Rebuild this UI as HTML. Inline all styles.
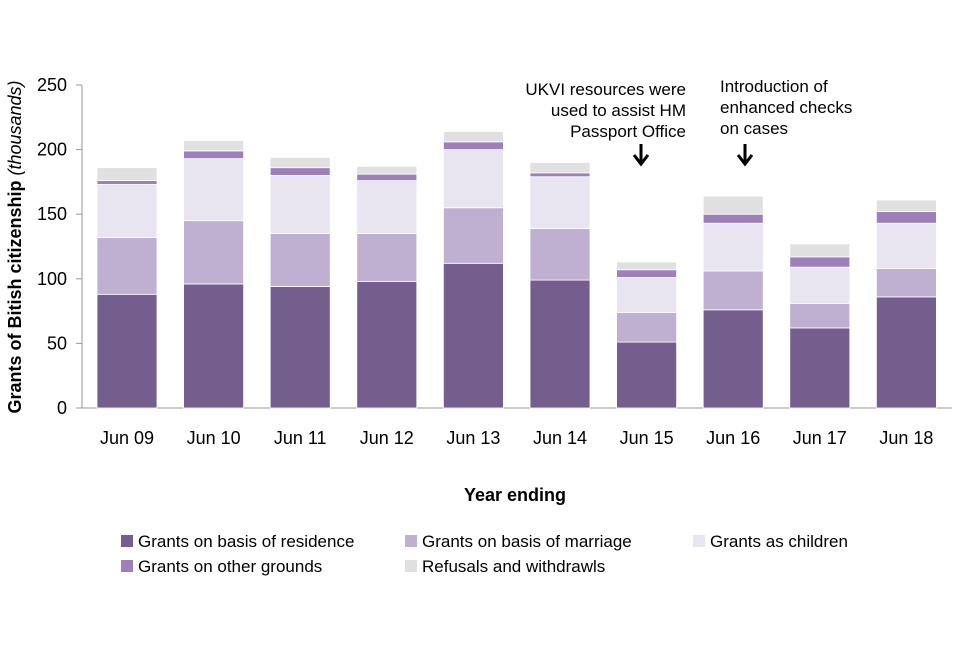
<!DOCTYPE html>
<html><head><meta charset="utf-8"><style>
body{margin:0;background:#fff;font-family:"Liberation Sans",sans-serif}
svg text{font-family:"Liberation Sans",sans-serif}
</style></head><body>
<svg id="chart" width="960" height="640" viewBox="0 0 960 640" xmlns="http://www.w3.org/2000/svg">
<g id="axes"></g><g id="bars"></g><g id="legend"></g>
<text transform="translate(21,247) rotate(-90)" text-anchor="middle" font-size="18" font-weight="bold" fill="#000">Grants of Bitish citizenship <tspan font-weight="normal" font-style="italic">(thousands)</tspan></text>
<text x="515" y="501" text-anchor="middle" font-size="18" font-weight="bold">Year ending</text>
<g font-size="17" text-anchor="end">
<text x="686" y="95">UKVI resources were</text>
<text x="686" y="116">used to assist HM</text>
<text x="686" y="137">Passport Office</text>
<path d="M641 144 V164 M634 155 L641 164 L648 155" stroke="#000" stroke-width="3" fill="none"/>
</g>
<g font-size="17">
<text x="720" y="92">Introduction of</text>
<text x="720" y="113">enhanced checks</text>
<text x="720" y="134">on cases</text>
<path d="M745 144 V164 M738 155 L745 164 L752 155" stroke="#000" stroke-width="3" fill="none"/>
</g>
</svg>
<script>
const categories=["Jun 09","Jun 10","Jun 11","Jun 12","Jun 13","Jun 14","Jun 15","Jun 16","Jun 17","Jun 18"];
const residence=[88,96,94,98,112,99,51,76,62,86];
const marriage=[44,49,41,37,43,40,23,30,19,22];
const children=[41,48,45,41,45,40,27,37,28,35];
const other=[3,6,6,5,6,3,6,7,8,9];
const refusals=[10,8,8,6,8,8,6,14,10,9];
const yTicks=[0,50,100,150,200,250];
const seriesNames=["Grants on basis of residence","Grants on basis of marriage","Grants as children","Grants on other grounds","Refusals and withdrawls"];
const colors=["#735e8d","#bfb0d1","#e8e4f0","#9c80bb","#e0e0e0"];
const series=[residence,marriage,children,other,refusals];
const NS="http://www.w3.org/2000/svg";
const y0=408,y1=85,yMax=250;
const y=v=>y0-(v/yMax)*(y0-y1);
const x=i=>97+i*86.6;
const bw=60;
function mk(tag,attrs,parent){const e=document.createElementNS(NS,tag);for(const k in attrs)e.setAttribute(k,attrs[k]);parent.appendChild(e);return e;}
const axes=document.getElementById('axes');
let ax=mk('line',{x1:82,x2:82,y1:y1,y2:y0,stroke:'#999','stroke-width':1},axes);


let bx=mk('line',{x1:82,x2:952,y1:y0,y2:y0,stroke:'#999','stroke-width':1},axes);


yTicks.forEach(t=>{
  mk('line',{x1:76,x2:82,y1:y(t),y2:y(t),stroke:'#999'},axes);
  const tx=mk('text',{x:67,y:y(t)+6,'text-anchor':'end','font-size':18},axes);
  tx.textContent=t;
  
  
});
const bars=document.getElementById('bars');
categories.forEach((c,i)=>{
  let base=0;
  series.forEach((s,k)=>{
    const r=mk('rect',{x:x(i),y:y(base+s[i]),width:bw,height:y(base)-y(base+s[i]),fill:colors[k],stroke:'#fff','stroke-width':0.8},bars);
    
    
    base+=s[i];
  });
  const t=mk('text',{x:x(i)+bw/2,y:444,'text-anchor':'middle','font-size':18},bars);
  t.textContent=c;
  
  
});
const legend=document.getElementById('legend');
const pos=[[121,541],[405,541],[693,541],[121,566],[405,566]];
seriesNames.forEach((n,k)=>{
  const g=mk('g',{},legend);
  
  
  mk('rect',{x:pos[k][0],y:pos[k][1]-6,width:12,height:12,fill:colors[k]},g);
  const t=mk('text',{x:pos[k][0]+17,y:pos[k][1]+6,'font-size':17},g);
  t.textContent=n;
});
</script>
</body></html>
